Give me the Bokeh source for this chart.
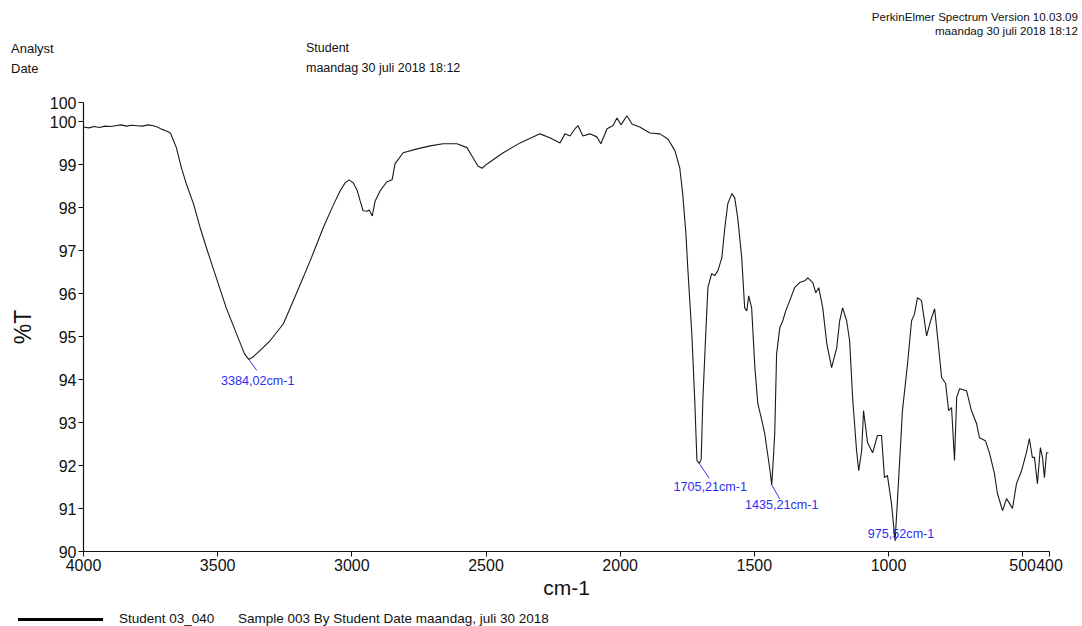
from bokeh.plotting import figure
from bokeh.layouts import column
from bokeh.models import Range1d, FixedTicker, Label, Div
from bokeh.embed import file_html
from bokeh.resources import INLINE

# ---------------- data ----------------
wavenumber = [4000, 3980, 3960, 3940, 3920, 3900, 3880, 3860, 3840, 3820, 3800, 3780, 3760, 3740, 3725,
              3710, 3695, 3676, 3654, 3635, 3617, 3590, 3565, 3542, 3505, 3468, 3430, 3400, 3384, 3370,
              3356, 3330, 3304, 3255, 3207, 3155, 3107, 3070, 3043, 3025, 3010, 2995, 2980, 2969, 2958,
              2943, 2935, 2924, 2913, 2894, 2870, 2850, 2839, 2809, 2757, 2708, 2660, 2608, 2571, 2548,
              2530, 2515, 2496, 2436, 2373, 2299, 2262, 2224, 2206, 2187, 2168, 2157, 2139, 2113, 2087,
              2072, 2049, 2027, 2012, 1997, 1975, 1956, 1927, 1889, 1852, 1822, 1796, 1778, 1767, 1755,
              1748, 1733, 1722, 1714, 1705, 1698, 1692, 1681, 1673, 1659, 1648, 1636, 1621, 1610, 1599,
              1584, 1573, 1562, 1547, 1536, 1528, 1521, 1510, 1498, 1487, 1472, 1461, 1454, 1443, 1435,
              1428, 1424, 1417, 1405, 1394, 1383, 1368, 1350, 1331, 1312, 1301, 1282, 1271, 1260, 1245,
              1230, 1212, 1193, 1182, 1171, 1156, 1145, 1133, 1119, 1111, 1100, 1093, 1078, 1059, 1041,
              1026, 1015, 1004, 989, 975.5, 966, 948, 929, 914, 903, 892, 877, 858, 843, 828,
              817, 802, 787, 776, 765, 754, 746, 735, 709, 691, 672, 661, 639, 624, 605,
              594, 575, 560, 549, 538, 523, 504, 486, 475, 464, 456, 445, 434, 426, 419,
              411, 404]
transmittance = [99.88, 99.86, 99.89, 99.87, 99.90, 99.89, 99.91, 99.93, 99.90, 99.92, 99.91, 99.90, 99.93, 99.91, 99.88,
                 99.83, 99.80, 99.74, 99.40, 98.93, 98.56, 98.09, 97.53, 97.07, 96.37, 95.67, 95.07, 94.60, 94.47, 94.52,
                 94.60, 94.75, 94.91, 95.30, 96.00, 96.77, 97.53, 98.05, 98.40, 98.58, 98.65, 98.58, 98.40, 98.16, 97.93,
                 97.92, 97.95, 97.81, 98.16, 98.40, 98.60, 98.65, 99.02, 99.28, 99.37, 99.44, 99.49, 99.49, 99.40, 99.16,
                 98.97, 98.92, 99.02, 99.28, 99.51, 99.72, 99.63, 99.51, 99.72, 99.67, 99.84, 99.91, 99.67, 99.72, 99.65,
                 99.49, 99.84, 99.91, 100.09, 99.93, 100.14, 99.95, 99.88, 99.74, 99.72, 99.60, 99.33, 98.93, 98.33, 97.40,
                 96.60, 95.07, 93.51, 92.12, 92.05, 92.15, 93.51, 95.07, 96.14, 96.47, 96.42, 96.53, 96.84, 97.53, 98.09,
                 98.33, 98.23, 97.77, 96.84, 95.67, 95.60, 95.95, 95.67, 94.28, 93.44, 93.05, 92.74, 92.42, 91.95, 91.55,
                 92.30, 92.74, 94.60, 95.21, 95.37, 95.60, 95.84, 96.14, 96.26, 96.30, 96.37, 96.26, 96.02, 96.14, 95.67,
                 94.84, 94.28, 94.74, 95.37, 95.67, 95.37, 94.91, 93.51, 92.35, 91.88, 92.35, 93.28, 92.53, 92.30, 92.70,
                 92.70, 91.72, 91.77, 91.12, 90.25, 91.26, 93.28, 94.37, 95.37, 95.53, 95.91, 95.84, 95.02, 95.37, 95.65,
                 94.98, 94.05, 93.91, 93.28, 93.35, 92.12, 93.58, 93.79, 93.74, 93.28, 92.98, 92.65, 92.58, 92.30, 91.81,
                 91.35, 90.95, 91.23, 91.12, 91.00, 91.58, 91.88, 92.30, 92.63, 92.19, 92.19, 91.58, 92.42, 92.19, 91.72,
                 92.30, 92.30]

peak_wn = [3384.02, 1705.21, 1435.21, 975.52]
peak_t = [94.47, 92.05, 91.55, 90.25]
peak_labels = ["3384,02cm-1", "1705,21cm-1", "1435,21cm-1", "975,52cm-1"]

x_ticks = [4000, 3500, 3000, 2500, 2000, 1500, 1000, 500, 400]
y_ticks = [90, 91, 92, 93, 94, 95, 96, 97, 98, 99, 100, 100.45]
y_tick_labels = {100.45: "100"}

header_left = ["Analyst", "Date"]
header_right = ["Student", "maandag 30 juli 2018 18:12"]
software = ["PerkinElmer Spectrum Version 10.03.09", "maandag 30 juli 2018 18:12"]
legend_texts = ["Student 03_040", "Sample 003 By Student Date maandag, juli 30 2018"]

# ---------------- layout ----------------
W = 1082
H_HEAD, H_MAIN, H_FOOT = 85, 521, 20
FONT = "Liberation Sans"
INK = "#111111"


def span(text, left, top, size, right=None, weight="normal"):
    pos = f"right:{right}px;" if right is not None else f"left:{left}px;"
    return (f'<span style="position:absolute;{pos}top:{top}px;font-size:{size}px;'
            f'font-weight:{weight};line-height:1;white-space:nowrap;color:{INK};">{text}</span>')


def box(inner, height):
    return Div(text=(f'<div style="position:relative;width:{W}px;height:{height}px;'
                     f'font-family:\'{FONT}\',Arial,sans-serif;">{inner}</div>'),
               width=W, height=height, margin=0)


# header
head_html = ""
for i, t in enumerate(header_left):
    head_html += span(t, 11, 42 + 20 * i, 13)
for i, t in enumerate(header_right):
    head_html += span(t, 306, 42 + 20 * i, 12.5)
for i, t in enumerate(software):
    head_html += span(t, None, 11 + 14 * i, 11.6, right=4)
head = box(head_html, H_HEAD)

# main chart
p = figure(width=W, height=H_MAIN, output_backend="svg", toolbar_location=None,
           x_range=Range1d(4000, 400), y_range=Range1d(90, 100.45),
           min_border_left=83, min_border_right=33,
           min_border_top=17, min_border_bottom=55, margin=0)
p.outline_line_color = None
p.grid.visible = False

p.line(wavenumber, transmittance, line_color="#1a1a1a", line_width=1.1)

for ax in (p.xaxis[0], p.yaxis[0]):
    ax.axis_line_color = INK
    ax.axis_line_width = 1.2
    ax.major_tick_line_color = INK
    ax.major_tick_out = 5
    ax.major_tick_in = 0
    ax.minor_tick_line_color = None
    ax.major_label_text_font = FONT
    ax.major_label_text_font_size = "16px"
    ax.major_label_text_color = INK
    ax.major_label_standoff = 2
    ax.axis_label_text_font = FONT
    ax.axis_label_text_font_style = "normal"
    ax.axis_label_text_color = INK

p.xaxis[0].ticker = FixedTicker(ticks=x_ticks)
p.xaxis[0].axis_label = "cm-1"
p.xaxis[0].axis_label_text_font_size = "21px"
p.xaxis[0].axis_label_standoff = 2
p.yaxis[0].ticker = FixedTicker(ticks=y_ticks)
p.yaxis[0].major_label_overrides = y_tick_labels
p.yaxis[0].axis_label = "%T"
p.yaxis[0].axis_label_text_font_size = "23px"
p.yaxis[0].axis_label_standoff = 11

# peak annotations
px_per_wn = 966 / 3600.0
px_per_t = 449 / 10.45
label_offsets = [(9, 15, 8, 11), (11, 17, 10, 15), (10, 13, 8, 14), (6, -14, 2, -4)]
for wn, t, lab, (dx, dy, lx, ly) in zip(peak_wn, peak_t, peak_labels, label_offsets):
    p.segment(x0=[wn], y0=[t], x1=[wn - lx / px_per_wn], y1=[t - ly / px_per_t],
              line_color="#3a3af5", line_width=1)
    p.add_layout(Label(x=wn, y=t, x_offset=dx, y_offset=-dy, text=lab,
                       text_font=FONT, text_font_size="12.6px", text_color="#2e2ef0",
                       text_align="center", text_baseline="top"))

# footer legend
foot_html = ('<div style="position:absolute;left:18px;top:12px;width:85px;height:3px;'
             'background:#000;"></div>')
foot_html += span(legend_texts[0], 119, 6, 13.5)
foot_html += span(legend_texts[1], 238, 6, 13.5)
foot = box(foot_html, H_FOOT)

layout = column(head, p, foot, spacing=0)
open("out.html", "w").write(file_html(layout, INLINE))
